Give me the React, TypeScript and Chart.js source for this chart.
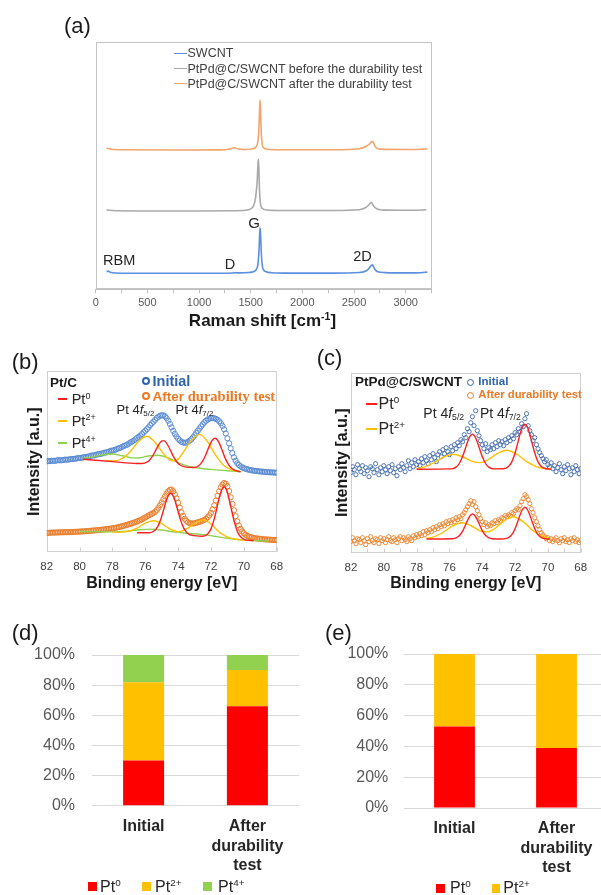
import React, { useEffect, useRef } from "react";
import { Chart, registerables } from "chart.js";

Chart.register(...registerables);

const SANS = '"Liberation Sans", Arial, Helvetica, sans-serif';
const SERIF = '"Liberation Serif", "Times New Roman", serif';

// ================= (a) Raman spectra  [shift cm-1, intensity (a.u., stacked offset)] =================
const ramanSWCNT = [
  [105, 17.5], [120, 18.2], [140, 17], [200, 16.3], [400, 16], [800, 16], [1200, 16], [1330, 16.3],
  [1350, 16.5], [1400, 16.4], [1480, 16.8], [1530, 17.8], [1555, 20], [1570, 25], [1580, 38], [1587, 55],
  [1591, 61.6], [1596, 55], [1603, 36], [1612, 24], [1625, 19.5], [1650, 17.5], [1700, 16.6], [1900, 16.2],
  [2300, 16.2], [2550, 16.8], [2620, 18.5], [2650, 21.5], [2665, 23.8], [2677, 24.5], [2690, 22.5],
  [2705, 19.5], [2730, 17.5], [2800, 16.7], [3000, 16.4], [3150, 16.6], [3210, 17.2],
];
const ramanBefore = [
  [105, 79.5], [130, 79], [200, 78.5], [600, 78.3], [1000, 78.3], [1300, 78.5], [1450, 79], [1500, 80.5],
  [1530, 84], [1548, 92], [1556, 100], [1563, 108], [1569, 122], [1574, 130], [1579, 122], [1585, 100],
  [1592, 88], [1600, 83], [1620, 80.5], [1660, 79.3], [1800, 78.8], [2300, 78.8], [2550, 79.5], [2610, 81.5],
  [2640, 84], [2660, 86.5], [2668, 87], [2680, 85], [2700, 82], [2730, 80], [2800, 79.2], [3100, 79], [3200, 79.5],
];
const ramanAfter = [
  [105, 140.5], [120, 141], [150, 140], [300, 139.5], [800, 139.3], [1200, 139.4], [1300, 140.3], [1340, 141.6],
  [1380, 140.3], [1450, 139.8], [1520, 140.5], [1555, 143], [1570, 148], [1580, 162], [1586, 180], [1590, 189.3],
  [1595, 180], [1601, 160], [1610, 146], [1625, 141.5], [1660, 140], [1800, 139.5], [2300, 139.5], [2550, 140.5],
  [2620, 143], [2650, 145.5], [2670, 147.5], [2682, 147.8], [2695, 145], [2715, 141.5], [2750, 140.2],
  [3000, 139.8], [3150, 140], [3210, 140.5],
];
const ramanLegend = ["SWCNT", "PtPd@C/SWCNT before the durability test", "PtPd@C/SWCNT after the durability test"];

// ================= (b) XPS Pt 4f, Pt/C  (binding energy 82 -> 68 eV, step 0.1) =================
const bEnergyStart = 82;
const bEnergyStep = 0.1;
const bInitial = [
  91.0, 91.3, 91.2, 91.6, 91.5, 91.5, 91.8, 92.1, 92.0, 92.0,
  92.3, 92.7, 92.6, 92.7, 93.0, 93.4, 93.3, 93.5, 93.8, 94.2,
  94.3, 94.4, 94.8, 95.3, 95.4, 95.6, 96.0, 96.6, 96.8, 97.0,
  97.5, 98.0, 98.2, 98.5, 99.0, 99.6, 99.8, 100.2, 100.8, 101.5,
  101.8, 102.1, 102.8, 103.6, 104.0, 104.6, 105.5, 106.4, 107.0, 107.7,
  108.8, 109.9, 110.8, 111.7, 113.0, 114.4, 115.5, 116.7, 118.2, 120.0,
  121.5, 123.1, 125.0, 127.2, 129.0, 130.6, 132.5, 134.3, 135.5, 136.6,
  137.0, 137.0, 136.0, 134.2, 131.5, 128.4, 125.0, 121.5, 118.5, 115.8,
  113.5, 111.8, 110.5, 109.8, 109.5, 109.7, 110.5, 111.6, 113.0, 114.9,
  117.0, 119.3, 121.5, 123.8, 126.0, 128.1, 130.0, 131.6, 132.8, 133.6,
  134.2, 134.3, 134.0, 133.4, 132.5, 131.0, 129.0, 126.4, 123.0, 118.8,
  114.0, 109.0, 104.0, 99.2, 95.0, 91.6, 89.0, 87.3, 86.0, 85.0,
  84.2, 83.5, 83.0, 82.6, 82.2, 81.9, 81.6, 81.4, 81.2, 81.0,
  80.8, 80.7, 80.5, 80.3, 80.2, 80.1, 80.0, 79.9, 79.8, 79.7,
  79.6,
];
const bAfter = [
  19.5, 19.4, 19.6, 19.7, 19.7, 19.8, 19.8, 19.9, 19.9, 20.0,
  20.0, 20.1, 20.1, 20.2, 20.2, 20.3, 20.3, 20.4, 20.5, 20.6,
  20.7, 20.8, 20.9, 21.0, 21.1, 21.3, 21.4, 21.6, 21.7, 21.9,
  22.0, 22.2, 22.3, 22.5, 22.7, 22.9, 23.1, 23.3, 23.5, 23.8,
  24.0, 24.3, 24.6, 24.9, 25.3, 25.7, 26.1, 26.5, 27.0, 27.5,
  28.0, 28.5, 29.0, 29.6, 30.2, 30.8, 31.5, 32.2, 33.0, 33.9,
  34.8, 35.8, 36.8, 37.7, 38.5, 39.4, 40.5, 42.2, 44.5, 47.1,
  50.0, 53.0, 56.0, 58.7, 61.0, 62.4, 62.8, 61.0, 58.0, 54.0,
  49.5, 44.7, 40.0, 36.4, 33.5, 31.4, 30.0, 29.2, 28.8, 28.8,
  29.0, 29.5, 30.0, 30.5, 31.0, 31.7, 32.5, 33.6, 35.0, 37.0,
  39.5, 42.9, 47.0, 51.7, 56.5, 61.0, 65.0, 67.7, 69.3, 68.5,
  66.0, 61.2, 55.0, 48.4, 42.0, 36.1, 31.0, 26.9, 23.5, 21.0,
  19.0, 17.6, 16.5, 15.8, 15.2, 14.8, 14.4, 14.1, 13.8, 13.6,
  13.4, 13.2, 13.1, 12.9, 12.8, 12.7, 12.6, 12.5, 12.4, 12.3,
  12.2,
];
const bPt0Initial = [
  [79.8, 93.1], [78.0, 90.7], [76.5, 88.8], [76.2, 88.8], [75.9, 90.1], [75.7, 92.9], [75.5, 97.8], [75.35, 102.5],
  [75.2, 107.1], [75.05, 110.6], [74.9, 111.7], [74.75, 110.2], [74.6, 106.3], [74.45, 101.3], [74.3, 96.2],
  [74.1, 90.8], [73.9, 87.5], [73.6, 85.4], [73.05, 84.8], [72.75, 86.6], [72.55, 90.1], [72.35, 96.3],
  [72.2, 102.3], [72.05, 108.2], [71.9, 112.6], [71.75, 114.1], [71.6, 112.2], [71.45, 107.4], [71.3, 101.1],
  [71.15, 94.7], [70.95, 88.1], [70.75, 84.0], [70.45, 81.4], [70.2, 80.6],
];
const bPt2Initial = [
  [78.4, 91.4], [77.9, 91.4], [77.4, 93.8], [76.9, 100.9], [76.4, 111.1], [75.9, 116.1], [75.4, 109.8],
  [74.9, 98.7], [74.4, 91.5], [74.0, 93.2], [73.7, 99.6], [73.2, 111.7], [72.7, 117.9], [72.2, 110.4],
  [71.7, 96.6], [71.2, 86.5], [70.7, 82.3], [70.2, 80.7],
];
const bPt4Initial = [
  [79.8, 94.1], [79.2, 95.4], [78.6, 97.5], [78.0, 98.3], [77.4, 96.5], [76.8, 94.4], [76.4, 94.3], [75.8, 96.3],
  [75.2, 97.1], [74.6, 94.3], [74.0, 89.6], [73.4, 86.2], [72.8, 84.3], [72.0, 82.9], [71.0, 81.6], [70.2, 80.6],
];
const bPt0After = [
  [76.5, 19.6], [75.75, 19.5], [75.45, 21.5], [75.25, 25.5], [75.05, 33.4], [74.9, 41.5], [74.75, 50.1],
  [74.6, 56.6], [74.45, 59.0], [74.3, 56.3], [74.15, 49.5], [74.0, 40.7], [73.85, 32.2], [73.65, 23.9],
  [73.45, 19.4], [73.15, 16.9], [72.5, 16.1], [72.2, 18.3], [72.0, 23.4], [71.8, 33.4], [71.65, 43.7],
  [71.5, 54.3], [71.35, 62.6], [71.2, 65.6], [71.05, 62.2], [70.9, 53.5], [70.75, 42.4], [70.6, 31.7],
  [70.4, 21.1], [70.2, 15.5], [69.9, 12.4], [69.4, 11.8],
];
const bPt2After = [
  [78.0, 20.2], [77.5, 20.2], [77.0, 21.0], [76.5, 24.1], [76.0, 29.1], [75.5, 31.6], [75.0, 28.6], [74.5, 23.4],
  [74.0, 20.7], [73.5, 23.2], [73.0, 28.9], [72.5, 32.4], [72.0, 28.3], [71.5, 20.3], [71.0, 15.2], [70.5, 13.1],
  [70.0, 12.2], [69.4, 11.8],
];
const bPt4After = [
  [80.0, 20.8], [79.0, 20.7], [78.0, 20.4], [77.0, 21.3], [76.3, 22.6], [75.6, 23.2], [74.9, 22.0], [74.2, 20.2],
  [73.5, 19.0], [72.6, 17.9], [71.8, 16.1], [71.0, 14.0], [70.0, 12.2], [69.0, 11.5], [68.5, 11.3],
];

// ================= (c) XPS Pt 4f, PtPd@C/SWCNT  (82 -> 68 eV, step 0.1) =================
const cEnergyStart = 82;
const cEnergyStep = 0.1;
const cInitial = [
  80, 86, 83, 78, 88, 84, 81, 87, 79, 85,
  82, 76, 86, 84, 80, 89, 83, 78, 85, 81,
  87, 83, 79, 86, 82, 88, 80, 84, 77, 86,
  83, 89, 85, 81, 87, 92, 84, 90, 86, 93,
  88, 91, 87, 94, 90, 96, 92, 89, 97, 93,
  99, 95, 91, 98, 101, 96, 103, 99, 105, 101,
  98, 106, 102, 108, 104, 110, 107, 113, 111, 118,
  115, 124, 121, 130, 136, 127, 142, 122, 117, 112,
  108, 104, 109, 101, 105, 103, 108, 104, 110, 106,
  112, 108, 111, 107, 113, 110, 115, 112, 117, 114,
  120, 118, 124, 121, 129, 126, 134, 139, 127, 122,
  118, 112, 115, 108, 104, 100, 97, 94, 91, 93,
  88, 86, 90, 84, 87, 81, 85, 89, 83, 79,
  86, 82, 88, 84, 78, 85, 81, 87, 83, 79,
  84,
];
const cAfter = [
  11, 15, 12, 9, 14, 13, 10, 15, 12, 8,
  14, 11, 16, 12, 10, 14, 13, 9, 15, 12,
  14, 10, 13, 16, 12, 11, 15, 13, 10, 14,
  16, 12, 15, 13, 11, 16, 14, 12, 17, 15,
  18, 16, 19, 17, 21, 18, 22, 20, 23, 21,
  25, 23, 26, 24, 28, 26, 29, 27, 31, 29,
  32, 30, 33, 31, 35, 33, 36, 34, 38, 40,
  43, 46, 49, 52, 48, 51, 46, 42, 38, 34,
  31, 28, 30, 26, 28, 27, 30, 29, 32, 30,
  33, 32, 35, 34, 37, 36, 38, 37, 40, 39,
  42, 44, 43, 47, 51, 54, 58, 56, 53, 49,
  44, 40, 35, 31, 27, 23, 20, 18, 16, 14,
  15, 12, 14, 11, 13, 15, 12, 10, 14, 12,
  15, 11, 13, 10, 14, 12, 15, 11, 13, 10,
  12,
];
const cPt0Initial = [
  [78.0, 83.5], [75.9, 83.8], [75.6, 85.6], [75.4, 89.2], [75.2, 96.1], [75.05, 103.2], [74.9, 110.6],
  [74.75, 116.3], [74.6, 118.5], [74.45, 116.3], [74.3, 110.6], [74.15, 103.2], [74.0, 96.1], [73.8, 89.2],
  [73.6, 85.6], [73.3, 83.8], [72.7, 83.9], [72.4, 86.2], [72.2, 90.8], [72.0, 99.7], [71.85, 108.8],
  [71.7, 118.4], [71.55, 125.7], [71.4, 128.5], [71.25, 125.7], [71.1, 118.4], [70.95, 108.8], [70.8, 99.7],
  [70.6, 90.8], [70.4, 86.2], [70.1, 83.9], [69.8, 83.5],
];
const cPt2Initial = [
  [78.0, 84.2], [77.57, 85.5], [76.97, 89.7], [76.37, 95.5], [75.77, 98.5], [75.17, 95.7], [74.57, 91.1],
  [74.14, 90.1], [73.71, 92.4], [73.11, 98.9], [72.51, 102.5], [71.91, 98.7], [71.31, 91.3], [70.71, 86.1],
  [70.11, 84.0], [69.8, 83.7],
];
const cPt0After = [
  [77.4, 13.7], [75.8, 14.0], [75.59, 14.8], [75.39, 17.1], [75.19, 21.8], [75.04, 27.0], [74.89, 32.6],
  [74.74, 37.0], [74.59, 38.7], [74.44, 37.0], [74.29, 32.6], [74.14, 27.0], [73.99, 21.8], [73.79, 17.1],
  [73.59, 14.8], [73.39, 14.0], [72.8, 13.7], [72.6, 14.05], [72.4, 15.1], [72.2, 18.0], [72.0, 24.0],
  [71.85, 30.5], [71.7, 37.6], [71.55, 43.2], [71.4, 45.4], [71.25, 43.2], [71.1, 37.6], [70.95, 30.5],
  [70.8, 24.0], [70.6, 18.0], [70.4, 15.1], [70.2, 14.05], [69.9, 13.7],
];
const cPt2After = [
  [77.4, 14.4], [77.05, 15.4], [76.45, 19.7], [75.85, 26.4], [75.25, 30.0], [74.65, 26.7], [74.05, 21.3],
  [73.68, 20.8], [73.3, 23.3], [72.71, 31.3], [72.11, 36.0], [71.51, 31.1], [70.91, 21.9], [70.31, 16.1],
  [69.9, 14.5],
];

// ================= (d), (e) composition bars (%) =================
const barCategories: any[] = ["Initial", ["After", "durability", "test"]];
const dPt0 = [30, 66];
const dPt2 = [52, 24];
const dPt4 = [18, 10];
const ePt0 = [53, 39];
const ePt2 = [47, 61];
const percentTicks = [0, 20, 40, 60, 80, 100];

// ================= styles =================
const BLUE_A = "#5b8fe0";
const GRAY_A = "#a9a9a9";
const ORANGE_A = "#f4a46c";
const FIT_RED = "#ff1f1f";
const FIT_YEL = "#ffc000";
const FIT_GRN = "#8fd14f";
const DATA_BLUE_B = "#5a8bd2";
const DATA_ORANGE_B = "#e97d2c";
const DATA_BLUE_C = "#4d74b3";
const DATA_ORANGE_C = "#ec8a38";
const LEG_BLUE = "#2f64ad";
const LEG_ORANGE = "#ec7a25";
const BAR_RED = "#ff0000";
const BAR_YEL = "#ffc000";
const BAR_GRN = "#92d050";

const fixH = (h: number) => (s: any) => { s.height = h; };
const fixW = (w: number) => (s: any) => { s.width = w; };

function gridXY(values: number[], start: number, step: number) {
  return values.map((y, i) => ({ x: Math.round((start - i * step) * 100) / 100, y }));
}
const pairs = (arr: number[][]) => arr.map(([x, y]) => ({ x, y }));

function boxPlugin(color: string, tickValues: number[] | null) {
  return {
    id: "boxFrame",
    beforeDatasetsDraw(chart: any) {
      const { ctx, chartArea: a } = chart;
      ctx.save();
      ctx.strokeStyle = color;
      ctx.lineWidth = 1;
      const l = Math.round(a.left) + 0.5;
      const t = Math.round(a.top) + 0.5;
      const r = Math.round(a.right) - 0.5;
      const b = Math.round(a.bottom) - 0.5;
      ctx.strokeRect(l, t, r - l, b - t);
      if (tickValues) {
        const sx = chart.scales.x;
        ctx.beginPath();
        for (const v of tickValues) {
          const x = Math.round(sx.getPixelForValue(v)) + 0.5;
          ctx.moveTo(x, b);
          ctx.lineTo(x, b - 4);
        }
        ctx.stroke();
      }
      ctx.restore();
    },
  };
}

const fitLine = (arr: number[][], color: string) => ({
  data: pairs(arr),
  showLine: true,
  borderColor: color,
  borderWidth: 1.4,
  pointRadius: 0,
  cubicInterpolationMode: "monotone",
  fill: false,
  order: 0,
});
const dots = (data: any[], color: string, r: number) => ({
  data,
  showLine: false,
  pointRadius: r,
  pointBorderWidth: 1,
  pointBorderColor: color,
  pointBackgroundColor: "rgba(255,255,255,0)",
  pointStyle: "circle",
  order: 1,
});

function ramanConfig(): any {
  const line = (arr: number[][], color: string) => ({
    data: pairs(arr), showLine: true, borderColor: color, borderWidth: 1.6,
    pointRadius: 0, cubicInterpolationMode: "monotone", fill: false,
  });
  return {
    type: "scatter",
    data: { datasets: [line(ramanSWCNT, BLUE_A), line(ramanBefore, GRAY_A), line(ramanAfter, ORANGE_A)] },
    options: {
      responsive: false, animation: false, events: [],
      layout: { padding: { left: 95.7, right: 169.5, top: 42, bottom: 2.7 } },
      plugins: { legend: { display: false }, tooltip: { enabled: false } },
      scales: {
        x: {
          type: "linear", min: 0, max: 3250, afterFit: fixH(20),
          ticks: {
            stepSize: 250, autoSkip: false, maxRotation: 0, padding: 3, color: "#595959",
            font: { family: SANS, size: 11 },
            callback: (v: number) => (v % 500 === 0 && v <= 3000 ? String(v) : ""),
          },
          grid: { drawOnChartArea: false, drawTicks: true, tickLength: 4, color: "#bfbfbf" },
          border: { display: true, color: "#bfbfbf" },
        },
        y: { display: false, min: 0, max: 247.3 },
      },
    },
    plugins: [boxPlugin("#c4c4c4", null)],
  };
}

function xpsOptions(p: any): any {
  return {
    responsive: false, animation: false, events: [],
    layout: { padding: p.padding },
    plugins: { legend: { display: false }, tooltip: { enabled: false } },
    scales: {
      x: {
        type: "linear", min: 68, max: 82, reverse: true, afterFit: fixH(p.xH),
        ticks: { stepSize: 2, autoSkip: false, maxRotation: 0, padding: p.tickPad, color: "#404040", font: { family: SANS, size: 11.5 } },
        grid: { display: false }, border: { display: false },
        title: { display: true, text: "Binding energy [eV]", color: "#1a1a1a", font: { family: SANS, size: 16, weight: "bold" }, padding: { top: 4, bottom: 4 } },
      },
      y: {
        min: 0, max: p.yMax, afterFit: fixW(p.yW),
        ticks: { display: false }, grid: { display: false }, border: { display: false },
        title: { display: true, text: "Intensity [a.u.]", color: "#1a1a1a", font: { family: SANS, size: 16, weight: "bold" }, padding: { top: 4, bottom: 4 } },
      },
    },
  };
}

function xpsBConfig(): any {
  const ticks: number[] = [];
  for (let v = 68; v <= 82; v += 2) ticks.push(v);
  return {
    type: "scatter",
    data: {
      datasets: [
        fitLine(bPt0Initial, FIT_RED), fitLine(bPt2Initial, FIT_YEL), fitLine(bPt4Initial, FIT_GRN),
        fitLine(bPt0After, FIT_RED), fitLine(bPt2After, FIT_YEL), fitLine(bPt4After, FIT_GRN),
        dots(gridXY(bInitial, bEnergyStart, bEnergyStep), DATA_BLUE_B, 2.6),
        dots(gridXY(bAfter, bEnergyStart, bEnergyStep), DATA_ORANGE_B, 2.6),
      ],
    },
    options: xpsOptions({ padding: { left: 20.6, right: 23.3, top: 41, bottom: 5.1 }, xH: 44.6, yW: 26.1, tickPad: 0, yMax: 181.3 }),
    plugins: [boxPlugin("#d0d0d0", ticks)],
  };
}

function xpsCConfig(): any {
  const ticks: number[] = [];
  for (let v = 68; v <= 82; v += 1) ticks.push(v);
  return {
    type: "scatter",
    data: {
      datasets: [
        fitLine(cPt0Initial, FIT_RED), fitLine(cPt2Initial, FIT_YEL),
        fitLine(cPt0After, FIT_RED), fitLine(cPt2After, FIT_YEL),
        dots(gridXY(cInitial, cEnergyStart, cEnergyStep), DATA_BLUE_C, 2.1),
        dots(gridXY(cAfter, cEnergyStart, cEnergyStep), DATA_ORANGE_C, 2.1),
      ],
    },
    options: xpsOptions({ padding: { left: 28.9, right: 20.3, top: 42.7, bottom: 5.1 }, xH: 44.2, yW: 22.1, tickPad: 0.4, yMax: 180 }),
    plugins: [boxPlugin("#d0d0d0", ticks)],
  };
}

function barConfig(series: { data: number[]; color: string }[], p: any): any {
  return {
    type: "bar",
    data: {
      labels: barCategories,
      datasets: series.map((s) => ({
        data: s.data, backgroundColor: s.color, borderWidth: 0,
        barPercentage: p.barPct, categoryPercentage: 1,
      })),
    },
    options: {
      responsive: false, animation: false, events: [],
      layout: { padding: p.padding },
      plugins: { legend: { display: false }, tooltip: { enabled: false } },
      scales: {
        x: {
          stacked: true, afterFit: fixH(80),
          grid: { display: false }, border: { display: false },
          ticks: { autoSkip: false, maxRotation: 0, padding: p.xPad, color: "#262626", font: { family: SANS, size: 16, weight: "bold" } },
        },
        y: {
          stacked: true, min: 0, max: 100, afterFit: fixW(p.yW),
          border: { display: false },
          grid: { color: "#d9d9d9", drawTicks: false },
          afterBuildTicks: (s: any) => { s.ticks = percentTicks.map((v) => ({ value: v })); },
          ticks: { padding: p.yPad, color: "#595959", font: { family: SANS, size: 16 }, callback: (v: number) => v + "%" },
        },
      },
    },
  };
}

function ChartBox({ left, top, width, height, make }: any) {
  const ref = useRef<HTMLCanvasElement>(null);
  useEffect(() => {
    const chart = new Chart(ref.current as HTMLCanvasElement, make());
    return () => chart.destroy();
  }, []);
  return <canvas ref={ref} width={width} height={height} style={{ position: "absolute", left, top, width, height }} />;
}

function T({ x, y, size, bold, color = "#1a1a1a", family = SANS, align = "left", children }: any) {
  const tx = align === "center" ? "-50%" : align === "right" ? "-100%" : "0";
  return (
    <div
      style={{
        position: "absolute", left: x, top: y, transform: `translate(${tx},-50%)`,
        fontFamily: family, fontSize: size, fontWeight: bold ? 700 : 400, color,
        lineHeight: 1, whiteSpace: "nowrap",
      }}
    >
      {children}
    </div>
  );
}
const Sup = ({ children }: any) => (
  <span style={{ fontSize: "0.62em", position: "relative", top: "-0.6em" }}>{children}</span>
);
const Sub = ({ children }: any) => (
  <span style={{ fontSize: "0.62em", position: "relative", top: "0.3em" }}>{children}</span>
);
const HLine = ({ x1, x2, y, color, w = 2 }: any) => (
  <div style={{ position: "absolute", left: x1, top: y - w / 2, width: x2 - x1, height: w, background: color }} />
);
const Ring = ({ cx, cy, d, bw, color }: any) => (
  <div
    style={{
      position: "absolute", left: cx - d / 2, top: cy - d / 2, width: d, height: d,
      border: `${bw}px solid ${color}`, borderRadius: "50%", boxSizing: "border-box",
    }}
  />
);
const Sq = ({ x, y, s, color }: any) => (
  <div style={{ position: "absolute", left: x, top: y - s / 2, width: s, height: s, background: color }} />
);

export default function App() {
  const ramanColors = [BLUE_A, GRAY_A, ORANGE_A];
  const ramanLegendY = [53.3, 68.7, 83.7];
  return (
    <div
      style={{
        position: "absolute", left: 0, top: 0, width: 601, height: 895, overflow: "hidden",
        background: "#ffffff", fontFamily: SANS,
      }}
    >
      {/* (a) */}
      <ChartBox left={0} top={0} width={601} height={312} make={ramanConfig} />
      <T x={64} y={25.7} size={22}>(a)</T>
      {ramanLegend.map((label, i) => (
        <React.Fragment key={label}>
          <HLine x1={174} x2={186.5} y={ramanLegendY[i]} color={ramanColors[i]} w={1.6} />
          <T x={187.5} y={ramanLegendY[i]} size={12.5} color="#404040">{label}</T>
        </React.Fragment>
      ))}
      <T x={254} y={222} size={15} align="center" color="#262626">G</T>
      <T x={103} y={260} size={14.5} color="#262626">RBM</T>
      <T x={230} y={264.3} size={14.5} align="center" color="#262626">D</T>
      <T x={362.5} y={255.7} size={14.5} align="center" color="#262626">2D</T>
      <T x={262.5} y={320} size={17} bold align="center">
        Raman shift [cm<Sup>-1</Sup>]
      </T>

      {/* (b) */}
      <ChartBox left={0} top={330} width={300} height={272} make={xpsBConfig} />
      <T x={11.7} y={361.7} size={22}>(b)</T>
      <T x={50} y={382.5} size={13.5} bold>Pt/C</T>
      <HLine x1={58.3} x2={67.3} y={399.3} color={FIT_RED} />
      <T x={71.7} y={399.3} size={14.5} color="#262626">Pt<Sup>0</Sup></T>
      <HLine x1={58.3} x2={67.3} y={420.7} color={FIT_YEL} />
      <T x={71.7} y={420.7} size={14.5} color="#262626">Pt<Sup>2+</Sup></T>
      <HLine x1={58.3} x2={67.3} y={442.7} color={FIT_GRN} />
      <T x={71.7} y={442.7} size={14.5} color="#262626">Pt<Sup>4+</Sup></T>
      <Ring cx={145.5} cy={380.7} d={8} bw={2} color={LEG_BLUE} />
      <T x={152.5} y={380.7} size={14.5} bold color={LEG_BLUE}>Initial</T>
      <Ring cx={145.5} cy={396.3} d={8} bw={2} color={LEG_ORANGE} />
      <T x={152.5} y={396.3} size={13.5} bold color={LEG_ORANGE}>
        After <span style={{ fontFamily: SERIF, fontSize: 14.5 }}>durability test</span>
      </T>
      <T x={116.5} y={409.5} size={13} color="#262626">Pt 4<i>f</i><Sub>5/2</Sub></T>
      <T x={175.5} y={409.5} size={13} color="#262626">Pt 4<i>f</i><Sub>7/2</Sub></T>

      {/* (c) */}
      <ChartBox left={300} top={330} width={301} height={272} make={xpsCConfig} />
      <T x={316.7} y={358.3} size={22}>(c)</T>
      <T x={355} y={381.7} size={13.5} bold>PtPd@C/SWCNT</T>
      <Ring cx={470.5} cy={382.3} d={7} bw={1.5} color={LEG_BLUE} />
      <T x={478.3} y={382.3} size={11.5} bold color={LEG_BLUE}>Initial</T>
      <Ring cx={470.5} cy={395} d={7} bw={1.5} color={LEG_ORANGE} />
      <T x={478.3} y={395} size={11.3} bold color={LEG_ORANGE}>After durability test</T>
      <HLine x1={365.7} x2={376.7} y={404.3} color={FIT_RED} />
      <T x={378.5} y={404.3} size={16} color="#262626">Pt<Sup>0</Sup></T>
      <HLine x1={365.7} x2={376.7} y={429.3} color={FIT_YEL} />
      <T x={378.5} y={429.3} size={16} color="#262626">Pt<Sup>2+</Sup></T>
      <T x={423.3} y={412.7} size={14} color="#262626">Pt 4<i>f</i><Sub>5/2</Sub></T>
      <T x={480} y={412.7} size={14} color="#262626">Pt 4<i>f</i><Sub>7/2</Sub></T>

      {/* (d) */}
      <ChartBox
        left={0} top={620} width={300} height={275}
        make={() =>
          barConfig(
            [{ data: dPt0, color: BAR_RED }, { data: dPt2, color: BAR_YEL }, { data: dPt4, color: BAR_GRN }],
            { padding: { left: 0, right: 0.7, top: 35, bottom: 9.3 }, barPct: 0.395, xPad: 3.7, yW: 91.7, yPad: 16.7 }
          )
        }
      />
      <T x={11.7} y={633.3} size={22}>(d)</T>
      <Sq x={87.7} y={886.7} s={9} color={BAR_RED} />
      <T x={100} y={886.7} size={16} color="#262626">Pt<Sup>0</Sup></T>
      <Sq x={141.7} y={886.7} s={9} color={BAR_YEL} />
      <T x={155} y={886.7} size={16} color="#262626">Pt<Sup>2+</Sup></T>
      <Sq x={203} y={886.7} s={9} color={BAR_GRN} />
      <T x={218} y={886.7} size={16} color="#262626">Pt<Sup>4+</Sup></T>

      {/* (e) */}
      <ChartBox
        left={300} top={620} width={310} height={275}
        make={() =>
          barConfig(
            [{ data: ePt0, color: BAR_RED }, { data: ePt2, color: BAR_YEL }],
            { padding: { left: 0, right: 2.5, top: 34, bottom: 7 }, barPct: 0.4, xPad: 3.4, yW: 103.5, yPad: 15.2 }
          )
        }
      />
      <T x={325} y={632.7} size={22}>(e)</T>
      <Sq x={436} y={888.3} s={8.5} color={BAR_RED} />
      <T x={450} y={888.3} size={16} color="#262626">Pt<Sup>0</Sup></T>
      <Sq x={491.5} y={888.3} s={8.5} color={BAR_YEL} />
      <T x={503.3} y={888.3} size={16} color="#262626">Pt<Sup>2+</Sup></T>
    </div>
  );
}
